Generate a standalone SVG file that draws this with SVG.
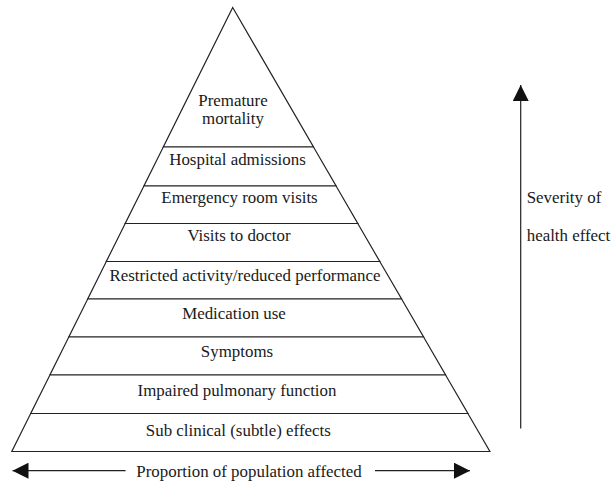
<svg xmlns="http://www.w3.org/2000/svg" width="615" height="487" viewBox="0 0 615 487">
<style>
.band{fill:#fff;stroke:#222;stroke-width:1.2;stroke-linejoin:miter}
.lbl{font-family:"Liberation Serif","Times New Roman",serif;font-size:16.9px;fill:#1a1a1a;text-anchor:middle}
.side{font-family:"Liberation Serif","Times New Roman",serif;font-size:16.9px;fill:#1a1a1a}
.conn{stroke:#222;stroke-width:1.2;fill:none}
</style>
<defs>
<marker id="ah" viewBox="0 0 16 16" refX="16" refY="8" markerWidth="16" markerHeight="16" markerUnits="userSpaceOnUse" orient="auto-start-reverse">
<path d="M0,0 L16,8 L0,16 Z" fill="#111"/>
</marker>
</defs>
<rect width="615" height="487" fill="#fff"/>
<g id="premature-mortality">
<polygon class="band" points="232.7,7.5 313.5,147 163.3,147"/>
<text class="lbl" x="233" y="106">Premature</text>
<text class="lbl" x="233" y="124">mortality</text>
</g>
<g id="hospital-admissions">
<polygon class="band" points="163.3,147 313.5,147 336.1,186 143.9,186"/>
<text class="lbl" x="237.5" y="164.5">Hospital admissions</text>
</g>
<g id="emergency-room-visits">
<polygon class="band" points="143.9,186 336.1,186 357.8,223.5 125.2,223.5"/>
<text class="lbl" x="239.5" y="203.3">Emergency room visits</text>
</g>
<g id="visits-to-doctor">
<polygon class="band" points="125.2,223.5 357.8,223.5 379.8,261.5 106.3,261.5"/>
<text class="lbl" x="239" y="240.7">Visits to doctor</text>
</g>
<g id="restricted-activity">
<polygon class="band" points="106.3,261.5 379.8,261.5 401.6,299 87.7,299"/>
<text class="lbl" x="245" y="280.7">Restricted activity/reduced performance</text>
</g>
<g id="medication-use">
<polygon class="band" points="87.7,299 401.6,299 423.6,337 68.8,337"/>
<text class="lbl" x="234" y="319">Medication use</text>
</g>
<g id="symptoms">
<polygon class="band" points="68.8,337 423.6,337 445.6,375 49.9,375"/>
<text class="lbl" x="237" y="357.3">Symptoms</text>
</g>
<g id="impaired-pulmonary-function">
<polygon class="band" points="49.9,375 445.6,375 467.9,413.5 30.7,413.5"/>
<text class="lbl" x="237" y="396">Impaired pulmonary function</text>
</g>
<g id="sub-clinical-effects">
<polygon class="band" points="30.7,413.5 467.9,413.5 489.9,451.5 11.8,451.5"/>
<text class="lbl" x="238.3" y="435.5">Sub clinical (subtle) effects</text>
</g>
<g id="connectors">
<line class="conn" x1="520.7" y1="428.5" x2="520.7" y2="85" marker-end="url(#ah)"/>
<line class="conn" x1="125.6" y1="470.7" x2="12.5" y2="470.7" marker-end="url(#ah)"/>
<line class="conn" x1="375" y1="470.7" x2="470" y2="470.7" marker-end="url(#ah)"/>
</g>
<g id="axis-labels">
<text class="lbl" x="249" y="476.5">Proportion of population affected</text>
<text class="side" x="526.7" y="203">Severity of</text>
<text class="side" x="526.7" y="241">health effect</text>
</g>
</svg>
